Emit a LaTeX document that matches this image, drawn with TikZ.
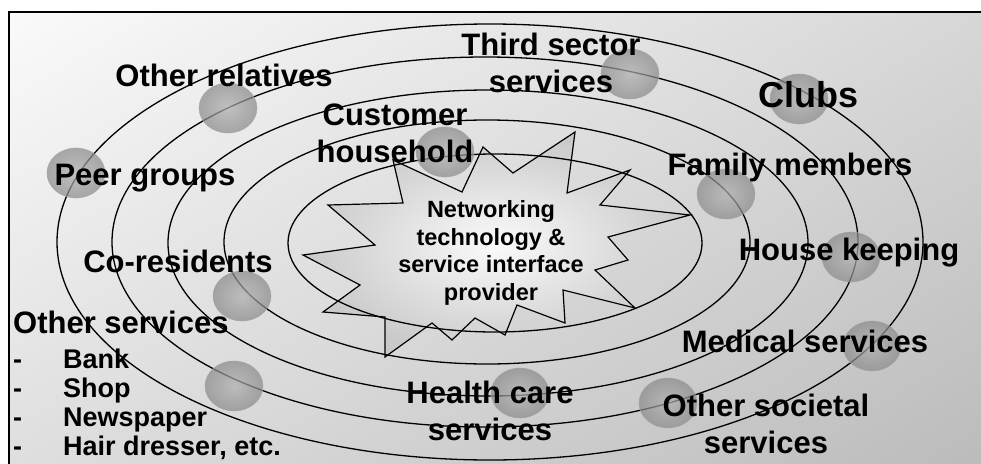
\documentclass[tikz,border=0pt]{standalone}
\usepackage{fontspec}
\setmainfont{Liberation Sans}
\usetikzlibrary{shadings}

\definecolor{paneltl}{gray}{0.98}
\definecolor{paneltr}{gray}{0.84}
\definecolor{panelbl}{gray}{0.87}
\definecolor{panelbr}{gray}{0.73}

\tikzset{
  orbit/.style={draw=black, line width=1.3pt},
  blob/.style={inner color=gray!62, outer color=gray!92, draw=gray!70,
    line width=0.6pt, opacity=0.72},
  lbl/.style={font=\fontsize{31}{37}\selectfont\bfseries, inner sep=0pt,
    anchor=base, align=center},
  small/.style={font=\fontsize{27}{29}\selectfont\bfseries, inner sep=0pt,
    anchor=base west, align=left}
}

\begin{document}
\begin{tikzpicture}[x=1pt,y=-1pt]
  \useasboundingbox (0,0) rectangle (981,463);
  \clip (0,0) rectangle (981,463);

  % panel
  \shade[upper left=paneltl, upper right=paneltr,
    lower left=panelbl, lower right=panelbr] (9,12) rectangle (995,475);
  \draw[line width=1.3pt] (9,12) rectangle (995,475);

  % the provider in the middle
  \shade[inner color=gray!4, outer color=gray!42, draw=black, line width=1.2pt]
    (393,160) -- (462,192) -- (483,147) -- (513,173) -- (575,132)
    -- (567,193) -- (630,170) -- (600,205) -- (690,215) -- (608,237)
    -- (628,260) -- (595,270) -- (635,308) -- (563,290) -- (565,323)
    -- (517,305) -- (505,335) -- (475,318) -- (452,340) -- (432,323)
    -- (385,357) -- (385,317) -- (323,312) -- (360,285) -- (303,255)
    -- (375,245) -- (328,205) -- (403,203) -- cycle;

  % rings
  \draw[orbit] (495,243) ellipse [x radius=207, y radius=89];
  \draw[orbit] (487,242) ellipse [x radius=263, y radius=122];
  \draw[orbit] (488,243) ellipse [x radius=320, y radius=153];
  \draw[orbit] (485,242) ellipse [x radius=373, y radius=185];
  \draw[orbit] (490,242) ellipse [x radius=433, y radius=218];

  % actors on the rings
  \shade[blob] (228,108) ellipse [x radius=29, y radius=25];
  \shade[blob] (76,173) ellipse [x radius=29, y radius=25];
  \shade[blob] (445,152) ellipse [x radius=29, y radius=25];
  \shade[blob] (630,74) ellipse [x radius=29, y radius=25];
  \shade[blob] (799,99) ellipse [x radius=29, y radius=25];
  \shade[blob] (726,194) ellipse [x radius=29, y radius=25];
  \shade[blob] (851,257) ellipse [x radius=29, y radius=25];
  \shade[blob] (242,296) ellipse [x radius=29, y radius=25];
  \shade[blob] (234,386) ellipse [x radius=29, y radius=25];
  \shade[blob] (520,393) ellipse [x radius=29, y radius=25];
  \shade[blob] (668,403) ellipse [x radius=29, y radius=25];
  \shade[blob] (872,346) ellipse [x radius=29, y radius=25];

  % labels
  \node[lbl, font=\fontsize{23.5}{27.5}\selectfont\bfseries] (provider)
    at (491,300) {Networking\\technology \&\\service interface\\provider};
  \node[lbl] (third) at (551,92) {Third sector\\services};
  \node[lbl] (relatives) at (224,86) {Other relatives};
  \node[lbl, font=\fontsize{36}{40}\selectfont\bfseries] (clubs) at (808,107) {Clubs};
  \node[lbl] (household) at (395,162) {Customer\\household};
  \node[lbl] (peers) at (145,185) {Peer groups};
  \node[lbl] (family) at (790,175) {Family members};
  \node[lbl] (coresidents) at (178,272) {Co-residents};
  \node[lbl] (housekeeping) at (849,260) {House keeping};
  \node[lbl] (medical) at (805,352) {Medical services};
  \node[lbl] (health) at (490,440) {Health care\\services};
  \node[lbl] (societal) at (766,453) {Other societal\\services};
  \node[lbl, anchor=base west] (others) at (13,333) {Other services};
  \node[small] (otherlist) at (13,368) {%
    \begin{tabular}[t]{@{}p{50pt}@{}l@{}}
      - & Bank\\
      - & Shop\\
      - & Newspaper\\
      - & Hair dresser, etc.
    \end{tabular}};
\end{tikzpicture}
\end{document}
